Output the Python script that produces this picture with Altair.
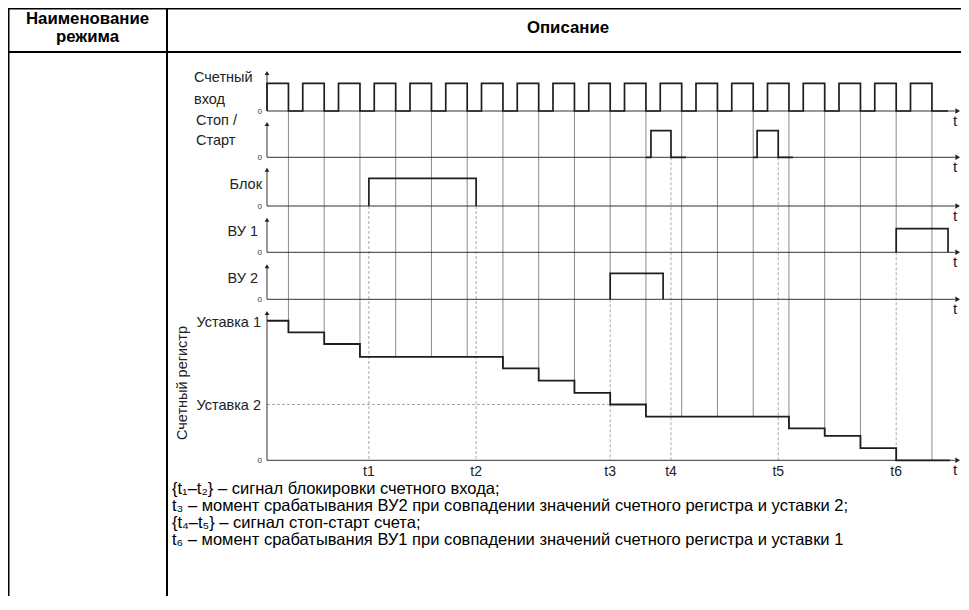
import altair as alt
import pandas as pd

# ---------------- values ----------------
# time in arbitrary units: 10 units = one period of the counting input
count_rise = [0, 10, 20, 30, 40, 50, 60, 70, 80, 90, 100, 110, 120, 130, 140, 150, 160, 170, 180]
count_fall = [6, 16, 26, 36, 46, 56, 66, 76, 86, 96, 106, 116, 126, 136, 146, 156, 166, 176, 186]
count_end = 190.5

stop_from = [106.0, 136.0]
stop_rise = [107.4, 137.1]
stop_fall = [113.0, 143.0]
stop_to = [117.2, 147.1]

block_pulse = [28.5, 58.5]
vu1_pulse = [176.0, 190.5]
vu2_pulse = [96.0, 110.8]

reg_step_times = [6, 16, 26, 66, 76, 86, 96, 106, 146, 156, 166, 176]
reg_levels = [12.0, 11.0, 10.0, 8.9, 7.9, 6.85, 5.8, 4.8, 3.75, 2.75, 2.1, 1.05, 0.0]
reg_end = 191.0
setpoint_names = ["Уставка 1", "Уставка 2"]
setpoint_levels = [12.0, 4.8]

marker_names = ["t1", "t2", "t3", "t4", "t5", "t6"]
marker_times = [28.5, 58.5, 96.0, 113.0, 143.0, 176.0]
marker_rows = ["block", "block", "vu2", "stop", "stop", "vu1"]

header_left = ["Наименование", "режима"]
header_right = "Описание"
caption_lines = [
    "{t₁–t₂} – сигнал блокировки счетного входа;",
    "t₃ – момент срабатывания ВУ2 при совпадении значений счетного регистра и уставки 2;",
    "{t₄–t₅} – сигнал стоп-старт счета;",
    "t₆ – момент срабатывания ВУ1 при совпадении значений счетного регистра и уставки 1",
]

# ---------------- layout ----------------
W, H = 953, 588
PAGE = 8
AXIS_X = 267.0     # page x of time 0
PX_T = 3.575       # pixels per time unit
REG0 = 460.3       # page y of register zero
REG_UNIT = 11.63   # pixels per register unit
AX_END = 192.4     # time where horizontal axes end (arrow)
FONT = "Liberation Sans"

row_base = {"count": 349.3, "stop": 303.0, "block": 254.3, "vu1": 208.0, "vu2": 161.0, "reg": 0.0}
row_amp = {"count": 27.7, "stop": 26.6, "block": 27.7, "vu1": 23.6, "vu2": 26.0}
row_top = {"count": 390.3, "stop": 339.3, "block": 293.6, "vu1": 243.6, "vu2": 197.0, "reg": 150.3}

xs = alt.Scale(domain=[(PAGE - AXIS_X) / PX_T, (PAGE + W - AXIS_X) / PX_T], range=[0, W], nice=False, zero=False)
ys = alt.Scale(domain=[REG0 - (PAGE + H), REG0 - PAGE], range=[H, 0], nice=False, zero=False)


def X(f="t"):
    return alt.X(f"{f}:Q", scale=xs, axis=None)


def Y(f="y"):
    return alt.Y(f"{f}:Q", scale=ys, axis=None)


# ---------------- waveforms ----------------
wave = []


def add(series, row, pts):
    for i, (t, lv) in enumerate(pts):
        wave.append({"series": series, "i": i, "t": t, "y": row_base[row] + lv * row_amp[row]})


pts = [(0, 0)]
for r, f in zip(count_rise, count_fall):
    pts += [(r, 0), (r, 1), (f, 1), (f, 0)]
pts.append((count_end, 0))
add("count", "count", pts)
for k in range(len(stop_from)):
    add(f"stop{k}", "stop", [(stop_from[k], 0), (stop_rise[k], 0), (stop_rise[k], 1),
                             (stop_fall[k], 1), (stop_fall[k], 0), (stop_to[k], 0)])
add("block", "block", [(block_pulse[0], 0), (block_pulse[0], 1), (block_pulse[1], 1), (block_pulse[1], 0)])
add("vu1", "vu1", [(vu1_pulse[0], 0), (vu1_pulse[0], 1), (vu1_pulse[1], 1), (vu1_pulse[1], 0)])
add("vu2", "vu2", [(vu2_pulse[0], 0), (vu2_pulse[0], 1), (vu2_pulse[1], 1), (vu2_pulse[1], 0)])
wave_df = pd.DataFrame(wave)

reg_pts = [(0, reg_levels[0])]
for k, ts in enumerate(reg_step_times):
    reg_pts += [(ts, reg_levels[k]), (ts, reg_levels[k + 1])]
reg_pts.append((reg_end, reg_levels[-1]))
reg_df = pd.DataFrame({"i": range(len(reg_pts)), "t": [p[0] for p in reg_pts],
                       "y": [p[1] * REG_UNIT for p in reg_pts]})


def reg_at(t):
    lv = reg_levels[0]
    for k, ts in enumerate(reg_step_times):
        if t >= ts:
            lv = reg_levels[k + 1]
    return lv


# gridlines at the falling edges
grid = []
for f in count_fall:
    low = reg_at(f) * REG_UNIT
    if f in marker_times:
        low = max(low, row_base[marker_rows[marker_times.index(f)]])
    grid.append({"t": f, "y": row_base["count"], "y2": low})
grid_df = pd.DataFrame(grid)

marker_df = pd.DataFrame({"name": marker_names, "t": marker_times,
                          "y": [row_base[r] for r in marker_rows], "y2": 0.0})

sp2_df = pd.DataFrame({"t": [0.0], "t2": [marker_times[2]], "y": [setpoint_levels[1] * REG_UNIT]})

rows = list(row_base.keys())
axes_h = pd.DataFrame({"t": 0.0, "t2": AX_END, "y": [row_base[r] for r in rows]})
axes_v = pd.DataFrame({"t": 0.0, "y": [row_base[r] for r in rows], "y2": [row_top[r] - 4 for r in rows]})
arrow_r = pd.DataFrame({"t": AX_END + 0.8, "y": [row_base[r] for r in rows]})
arrow_u = pd.DataFrame({"t": 0.0, "y": [row_top[r] - 3 for r in rows]})

grey = "#8c8c8c"
dark = "#1e1e1e"

layers = []
layers.append(alt.Chart(grid_df).mark_rule(color=grey, strokeWidth=1).encode(x=X(), y=Y(), y2="y2:Q"))
layers.append(alt.Chart(marker_df).mark_rule(color="#a8a8a8", strokeWidth=1, strokeDash=[3, 2]).encode(x=X(), y=Y(), y2="y2:Q"))
layers.append(alt.Chart(sp2_df).mark_rule(color="#a8a8a8", strokeWidth=1, strokeDash=[3, 2]).encode(x=X(), x2="t2:Q", y=Y()))
layers.append(alt.Chart(axes_h).mark_rule(color="#333333", strokeWidth=1).encode(x=X(), x2="t2:Q", y=Y()))
layers.append(alt.Chart(axes_v).mark_rule(color="#333333", strokeWidth=1).encode(x=X(), y=Y(), y2="y2:Q"))
layers.append(alt.Chart(arrow_r).mark_point(shape="triangle-right", filled=True, color="#222222", size=30, opacity=1).encode(x=X(), y=Y()))
layers.append(alt.Chart(arrow_u).mark_point(shape="triangle-up", filled=True, color="#222222", size=22, opacity=1).encode(x=X(), y=Y()))
layers.append(alt.Chart(wave_df).mark_line(color=dark, strokeWidth=1.7, strokeJoin="miter").encode(
    x=X(), y=Y(), detail="series:N", order="i:Q"))
layers.append(alt.Chart(reg_df).mark_line(color=dark, strokeWidth=1.8, strokeJoin="miter").encode(
    x=X(), y=Y(), order="i:Q"))

# zero labels and 't' labels
zero_df = pd.DataFrame({"t": 0.0, "y": [row_base[r] for r in rows], "text": "0"})
layers.append(alt.Chart(zero_df).mark_text(font=FONT, fontSize=8, color="#333333", align="right",
                                           baseline="middle", dx=-5, dy=1).encode(x=X(), y=Y(), text="text:N"))
tlab_df = pd.DataFrame({"t": AX_END - 0.5, "y": [row_base[r] for r in rows], "text": "t"})
layers.append(alt.Chart(tlab_df).mark_text(font=FONT, fontSize=15, color="#222222", align="left",
                                           baseline="middle", dy=10).encode(x=X(), y=Y(), text="text:N"))

# marker tick labels
layers.append(alt.Chart(marker_df).mark_text(font=FONT, fontSize=14, color="#222222", baseline="middle").encode(
    x=X(), y=alt.value(472 - PAGE), text="name:N"))

# set-point labels
sp_df = pd.DataFrame({"t": 0.0, "y": [v * REG_UNIT for v in setpoint_levels], "text": setpoint_names})
layers.append(alt.Chart(sp_df).mark_text(font=FONT, fontSize=14.5, color="#222222", align="right",
                                         baseline="middle", dx=-6, dy=2).encode(x=X(), y=Y(), text="text:N"))

# row labels (layout positions in page pixels)
lab = pd.DataFrame([
    {"px": 194, "py": 78, "text": "Счетный", "align": "left"},
    {"px": 194, "py": 100, "text": "вход", "align": "left"},
    {"px": 196, "py": 121, "text": "Стоп /", "align": "left"},
    {"px": 196, "py": 141, "text": "Старт", "align": "left"},
    {"px": 262, "py": 185, "text": "Блок", "align": "right"},
    {"px": 258, "py": 232, "text": "ВУ 1", "align": "right"},
    {"px": 258, "py": 279, "text": "ВУ 2", "align": "right"},
])
lab["px"] -= PAGE
lab["py"] -= PAGE
for al in ["left", "right"]:
    layers.append(alt.Chart(lab[lab["align"] == al]).mark_text(font=FONT, fontSize=14.5, color="#222222",
                                                               align=al, baseline="middle").encode(
        x=alt.X("px:Q", scale=None), y=alt.Y("py:Q", scale=None), text="text:N"))

layers.append(alt.Chart(pd.DataFrame({"text": ["Счетный регистр"]})).mark_text(
    font=FONT, fontSize=14.5, color="#222222", angle=270, align="center", baseline="middle").encode(
    x=alt.value(183 - PAGE), y=alt.value(383 - PAGE), text="text:N"))

# table frame
frame = pd.DataFrame([
    {"x": 0, "x2": W, "y": 0.5, "y2": 0.5},
    {"x": 0, "x2": W, "y": 52 - PAGE, "y2": 52 - PAGE},
    {"x": 0.5, "x2": 0.5, "y": 0, "y2": H},
    {"x": 167 - PAGE, "x2": 167 - PAGE, "y": 0, "y2": H},
])
layers.append(alt.Chart(frame).mark_rule(color="#000000", strokeWidth=2).encode(
    x=alt.X("x:Q", scale=None), x2="x2:Q", y=alt.Y("y:Q", scale=None), y2="y2:Q"))

head = pd.DataFrame([
    {"px": 87.5 - PAGE, "py": 19 - PAGE, "text": header_left[0]},
    {"px": 87.5 - PAGE, "py": 37 - PAGE, "text": header_left[1]},
    {"px": 568 - PAGE, "py": 28 - PAGE, "text": header_right},
])
layers.append(alt.Chart(head).mark_text(font=FONT, fontSize=16.8, fontWeight="bold", color="#000000",
                                        align="center", baseline="middle").encode(
    x=alt.X("px:Q", scale=None), y=alt.Y("py:Q", scale=None), text="text:N"))

cap = pd.DataFrame({"text": caption_lines, "px": 172 - PAGE,
                    "py": [489 - PAGE, 506 - PAGE, 523 - PAGE, 540 - PAGE]})
layers.append(alt.Chart(cap).mark_text(font=FONT, fontSize=16.5, color="#000000", align="left",
                                       baseline="middle").encode(
    x=alt.X("px:Q", scale=None), y=alt.Y("py:Q", scale=None), text="text:N"))

chart = alt.layer(*layers).properties(width=W, height=H, padding=0, autosize="none").configure_view(
    stroke=None).configure(background="white")

chart.save("out.html", embed_options={"renderer": "svg", "actions": False})
